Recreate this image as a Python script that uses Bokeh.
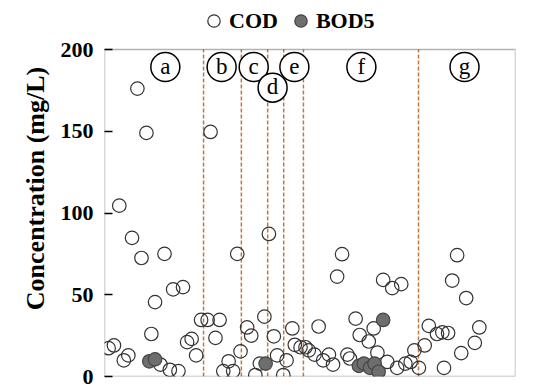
from bokeh.plotting import figure
from bokeh.models import Range1d, FixedTicker, Legend, LegendItem, BoxAnnotation, ColumnDataSource, Title
from bokeh.core.properties import value
from bokeh.embed import file_html
from bokeh.resources import INLINE

# ---- data ----
cod_x = [1.0, 2.3, 3.6, 4.7, 5.8, 6.7, 8.0, 9.0, 10.2, 11.4, 12.3, 13.6, 14.6, 15.9, 16.7, 18.0,
         19.1, 20.1, 21.2, 22.3, 23.5,
         25.1, 25.8, 27.0, 28.0, 28.9, 30.2, 31.3, 32.3, 33.1,
         34.7, 35.7, 36.7, 37.8, 38.9,
         40.0, 41.2, 42.0, 43.5,
         44.3, 45.7, 46.3, 47.7, 48.9,
         49.7, 51.1, 52.1, 53.2, 54.6, 55.6, 56.6, 57.8, 59.1, 59.7, 61.1, 62.1, 64.3, 65.5,
         66.4, 67.8, 68.8, 70.0, 71.2, 72.2, 73.2, 74.5, 75.4,
         76.5, 77.9, 78.9, 80.9, 82.2, 82.6, 83.6, 84.6, 85.8, 86.8, 88.0, 90.1, 91.2]
cod_y = [17.3, 19.0, 104.5, 9.9, 12.9, 84.8, 176.1, 72.5, 149.0, 26.0, 45.5, 7.3, 75.0, 4.1, 53.3, 3.3,
         54.7, 21.0, 23.0, 12.9, 34.6,
         34.6, 149.6, 23.6, 34.6, 3.3, 9.3, 3.3, 75.0, 15.4,
         30.0, 25.0, 0.9, 7.9, 36.6,
         87.2, 24.6, 12.9, 0.9,
         9.9, 29.4, 19.4, 17.9, 17.9,
         16.0, 13.4, 30.6, 9.9, 13.4, 7.3, 61.1, 74.8, 13.4, 11.0, 35.4, 25.4, 21.4, 29.4,
         14.6, 59.1, 8.9, 54.1, 5.3, 56.5, 7.9, 8.9, 16.0,
         5.3, 19.0, 31.0, 26.0, 27.0, 5.3, 26.6, 58.7, 74.2, 14.3, 48.0, 20.6, 30.0]

bod_x = [10.9, 12.3, 39.2, 61.9, 63.1, 64.6, 65.7, 66.7, 67.8]
bod_y = [9.3, 10.5, 7.9, 6.5, 7.9, 5.3, 7.9, 2.9, 34.6]

boundaries = [24.1, 33.3, 39.7, 43.6, 48.4, 76.4]
region_labels = ["a", "b", "c", "d", "e", "f", "g"]
label_x = [14.8, 28.5, 36.3, 40.9, 46.2, 62.5, 87.6]
label_y = [189.3, 189.3, 189.3, 176.7, 189.3, 189.3, 189.3]

y_ticks = [0, 50, 100, 150, 200]
X_MIN, X_MAX, Y_MIN, Y_MAX = 0, 100, 0, 200

SERIF = "Liberation Serif"

# the frame reaches the top of the canvas so the legend can sit above the data box
p = figure(width=560, height=388, output_backend="svg", toolbar_location=None,
           x_range=Range1d(X_MIN, X_MAX), y_range=Range1d(Y_MIN, 230),
           min_border_left=104, min_border_right=45, min_border_top=0, min_border_bottom=12)

p.background_fill_color = "white"
p.border_fill_color = "white"
p.outline_line_color = None
p.xgrid.visible = False
p.ygrid.visible = False
p.xaxis.visible = False

ax = p.yaxis[0]
ax.ticker = FixedTicker(ticks=y_ticks)
ax.major_tick_in = 8
ax.major_tick_out = 0
ax.minor_tick_line_color = None
ax.axis_line_color = None
ax.major_tick_line_width = 1.5
ax.major_label_text_font = SERIF
ax.major_label_text_font_style = "bold"
ax.major_label_text_font_size = "22px"
ax.major_label_text_color = "black"
ax.major_label_standoff = 11

# y-axis title, centred on the data box rather than the taller frame
p.add_layout(Title(text="Concentration (mg/L)", align="center", offset=-22,
                   text_font=SERIF, text_font_style="bold", text_font_size="26px",
                   text_color="black", standoff=16), "left")

# data box (plot border)
p.add_layout(BoxAnnotation(left=X_MIN, right=X_MAX, bottom=Y_MIN, top=Y_MAX,
                           fill_color=None, fill_alpha=0, line_color="black", line_width=1.5))

# region boundaries
bsrc = ColumnDataSource(dict(x=boundaries, y0=[Y_MIN] * len(boundaries), y1=[Y_MAX] * len(boundaries)))
p.segment(x0="x", y0="y0", x1="x", y1="y1", source=bsrc, line_color="#bf7842",
          line_width=1.5, line_dash="4 2")

# data points
cod = p.scatter(cod_x, cod_y, marker="circle", size=13.5, fill_color=None,
                line_color="#333333", line_width=1.2)
bod = p.scatter(bod_x, bod_y, marker="circle", size=13.5, fill_color="#6e6e6e",
                line_color="#444444", line_width=1.2)

# circled region labels
lab_src = ColumnDataSource(dict(x=label_x, y=label_y, t=region_labels))
p.scatter("x", "y", source=lab_src, marker="circle", size=29, fill_color="white",
          line_color="black", line_width=1.5)
p.text("x", "y", text="t", source=lab_src, text_font=value(SERIF), text_font_size="23px",
       text_align="center", text_baseline="middle", text_color="black", y_offset=-1)

legend = Legend(items=[LegendItem(label="COD", renderers=[cod]),
                       LegendItem(label="BOD5", renderers=[bod])],
                orientation="horizontal", location=(94, 340),
                label_text_font=SERIF, label_text_font_style="bold",
                label_text_font_size="22px", label_text_color="black",
                glyph_width=31, glyph_height=31, label_height=31, label_standoff=0,
                spacing=7, padding=0, margin=0, border_line_color=None,
                background_fill_alpha=0)
p.add_layout(legend, "center")

open("out.html", "w").write(file_html(p, INLINE))
